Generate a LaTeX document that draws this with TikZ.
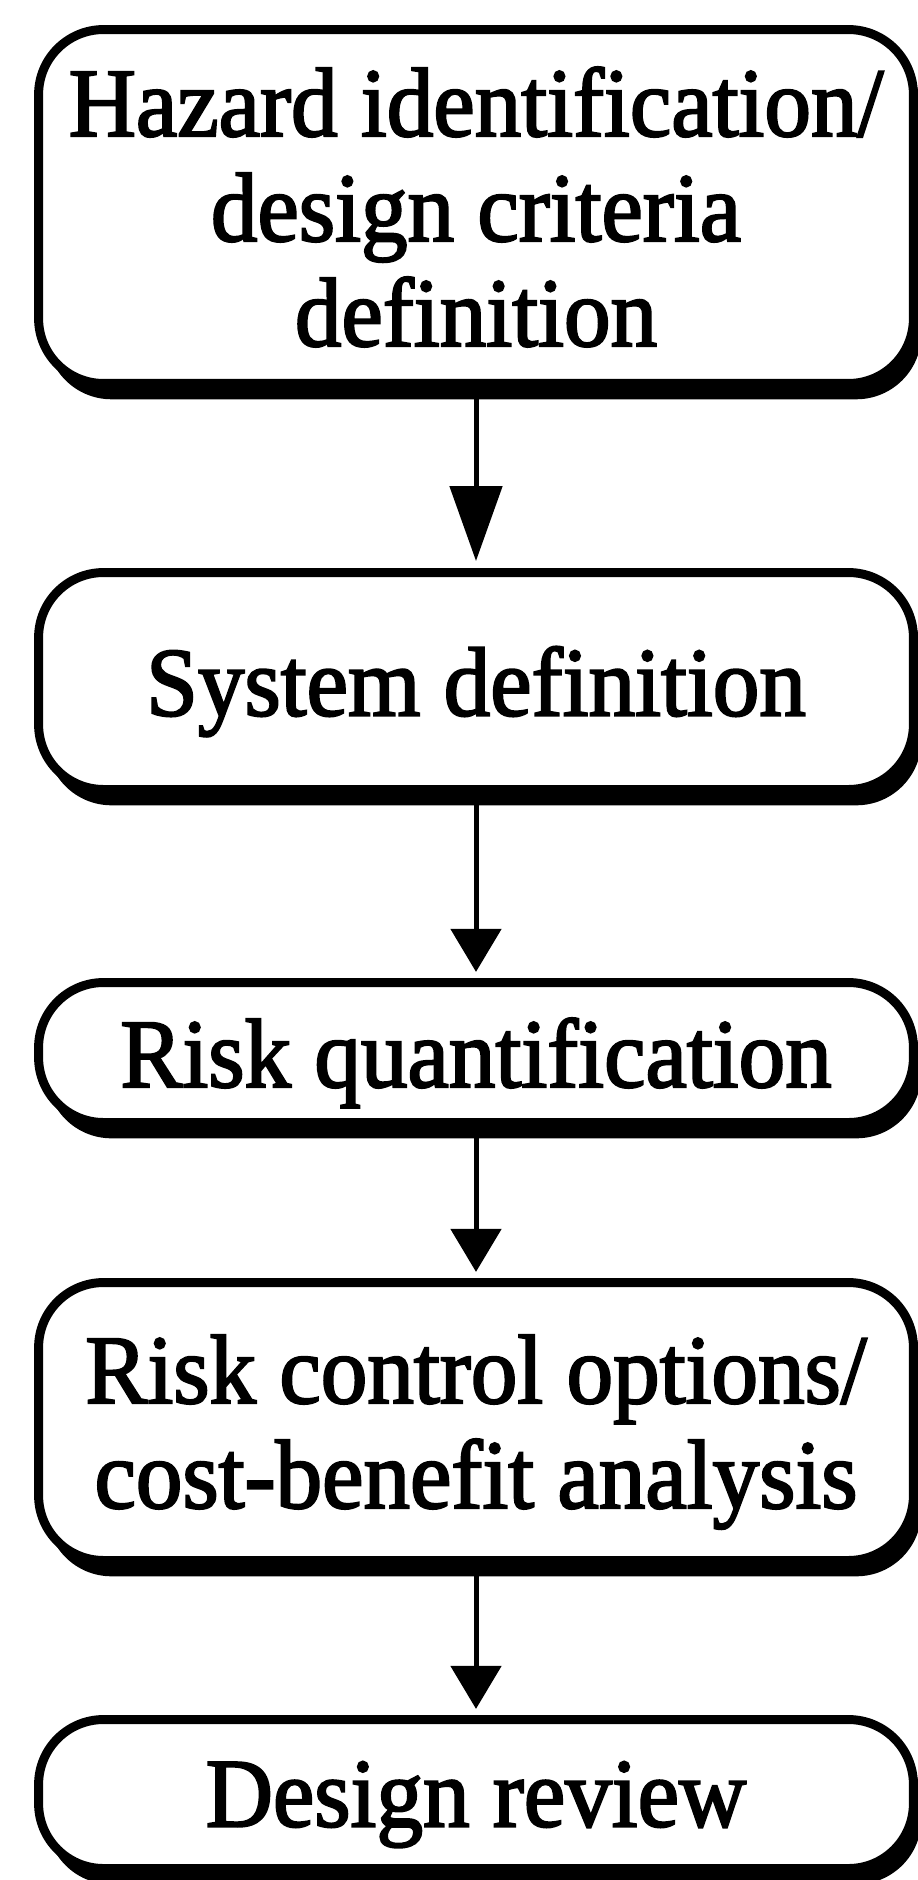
\documentclass[tikz,border=0pt]{standalone}
\usepackage{fontspec}
\setmainfont{Liberation Serif}[FakeStretch=0.95, FakeBold=2.2]
\usetikzlibrary{arrows.meta,shadows}

\tikzset{
  stage/.style={draw=black, line width=5.1pt, fill=white, rounded corners=1.3cm,
    minimum width=17.5cm, inner sep=0pt, align=center, text depth=0pt,
    font=\fontsize{55.8pt}{59.75pt}\selectfont,
    drop shadow={shadow xshift=4.5pt, shadow yshift=-9pt, fill=black, opacity=1}},
  flow/.style={line width=2.85pt, -{Triangle[length=24.5pt, width=28.5pt]}, shorten >=3.5pt},
  longflow/.style={line width=2.85pt, -{Triangle[length=42.7pt, width=29.6pt]}, shorten >=4pt}
}

\begin{document}
\begin{tikzpicture}[x=0.02cm, y=-0.02cm]
  \useasboundingbox (0,0) rectangle (917,1880);

  % process stages, top to bottom
  \node[stage, minimum height=7.08cm] (b1) at (476,206.5)
    {Hazard identification/\\design criteria\\definition};
  \node[stage, minimum height=4.34cm] (b2) at (476,681) {System definition};
  \node[stage, minimum height=2.8cm] (b3) at (476,1052.5) {Risk quantification};
  \node[stage, minimum height=5.56cm] (b4) at (476,1421.5)
    {Risk control options/\\cost-benefit analysis};
  \node[stage, minimum height=2.98cm] (b5) at (476,1794) {Design review};

  % connectors
  \draw[longflow] (b1.south) -- (b2.north);
  \draw[flow] (b2.south) -- (b3.north);
  \draw[flow] (b3.south) -- (b4.north);
  \draw[flow] (b4.south) -- (b5.north);
\end{tikzpicture}
\end{document}
